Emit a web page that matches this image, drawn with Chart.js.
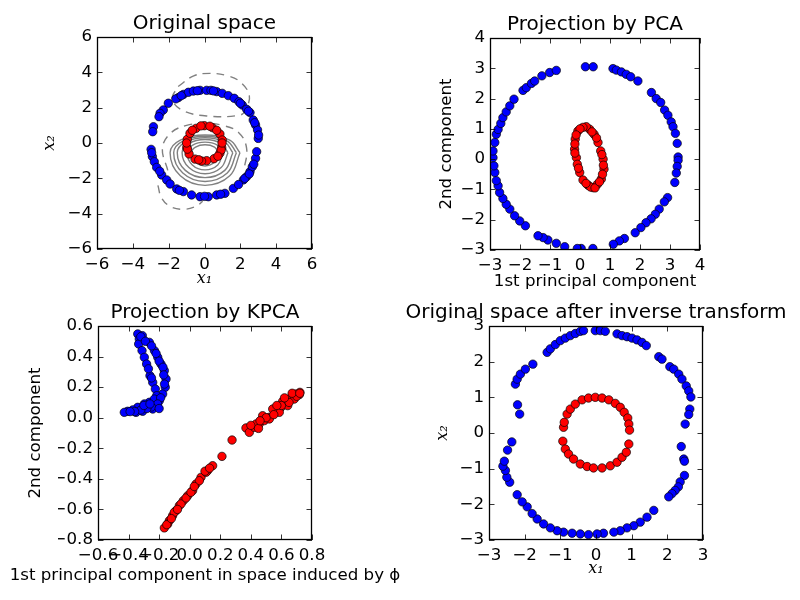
<!DOCTYPE html>
<html>
<head>
<meta charset="utf-8">
<script src="https://cdn.jsdelivr.net/npm/chart.js@4.4.0/dist/chart.umd.min.js"></script>
<style>
    body { margin: 0; background: #fff; }
    #wrap { position: relative; width: 800px; height: 600px; }
    canvas { position: absolute; }
</style>
</head>
<body>
<div id="wrap">
    <canvas id="origChart" width="400" height="300" style="left:0;top:0"></canvas>
    <canvas id="pcaChart" width="400" height="300" style="left:400px;top:0"></canvas>
    <canvas id="kpcaChart" width="400" height="300" style="left:0;top:300px"></canvas>
    <canvas id="backChart" width="400" height="300" style="left:400px;top:300px"></canvas>
</div>
<script>
// --- Original space ---
const origReds = [
    [-0.47, 0.83], [-0.01, 0.98], [0.44, 0.87], [0.86, 0.51], [0.99, 0.17], [0.96, -0.25], [0.86, -0.58],
    [0.53, -0.89], [0.12, -1.0], [-0.16, -1.02], [-0.53, -0.91], [-0.86, -0.62], [-0.99, -0.25], [-0.96, 0.21],
    [-0.81, 0.55], [-0.68, 0.72], [0.68, 0.72], [0.93, -0.4], [-0.32, -0.95], [0.3, 0.95], [-0.95, -0.35],
    [0.75, -0.75], [-0.2, 0.97], [0.98, 0.0], [-1.0, 0.0]
];
const origBlues = [
    [-1.46, 2.57], [-1.18, 2.75], [-0.9, 2.87], [-0.62, 2.94], [-0.25, 2.98], [0.12, 2.98], [0.36, 2.98],
    [0.68, 2.91], [0.99, 2.81], [1.33, 2.68], [1.66, 2.53], [1.92, 2.34], [2.11, 2.15], [2.35, 1.91],
    [2.54, 1.72], [2.72, 1.3], [2.85, 1.02], [2.96, 0.74], [3.0, 0.26], [-2.02, 2.25], [-2.3, 1.87],
    [-2.48, 1.68], [-2.54, 1.49], [-2.85, 0.92], [-2.89, 0.64], [-2.98, -0.36], [-2.91, -0.77], [-2.8, -1.06],
    [-2.67, -1.38], [-2.39, -1.81], [-2.11, -2.09], [-1.92, -2.32], [-1.55, -2.6], [-1.18, -2.75], [-0.72, -2.94],
    [-0.25, -3.04], [0.21, -3.04], [0.68, -2.94], [1.14, -2.85], [1.61, -2.57], [2.17, -2.09], [2.35, -1.91],
    [2.54, -1.62], [2.67, -1.34], [2.85, -0.87], [2.91, -0.49], [-1.6, 2.5], [-1.3, 2.68], [-0.4, 2.96],
    [0.5, 2.95], [2.0, 2.25], [2.45, 1.8], [2.8, 1.15], [3.02, 0.45], [-2.95, -0.55], [-2.5, -1.6],
    [-1.4, -2.68], [0.0, -3.02], [0.9, -2.9], [1.9, -2.35], [2.25, -2.0], [2.5, -1.75], [2.75, -1.2]
];
const origContourSolid = [
    [[0.78, -0.55], [0.56, -0.23], [0.03, -0.1], [-0.5, -0.23], [-0.72, -0.55], [-0.5, -1.08], [0.03, -1.3], [0.56, -1.08], [0.78, -0.55]],
    [[1.03, -0.55], [0.74, -0.13], [0.03, 0.05], [-0.68, -0.13], [-0.97, -0.55], [-0.68, -1.24], [0.03, -1.52], [0.74, -1.24], [1.03, -0.55]],
    [[1.31, -0.55], [0.93, -0.02], [0.03, 0.2], [-0.87, -0.02], [-1.25, -0.55], [-0.87, -1.39], [0.03, -1.74], [0.93, -1.39], [1.31, -0.55]],
    [[1.58, -0.55], [1.13, 0.05], [0.03, 0.3], [-1.07, 0.05], [-1.52, -0.55], [-1.07, -1.55], [0.03, -1.96], [1.13, -1.55], [1.58, -0.55]],
    [[1.78, -0.55], [1.27, 0.11], [0.03, 0.38], [-1.21, 0.11], [-1.72, -0.55], [-1.21, -1.7], [0.03, -2.18], [1.27, -1.7], [1.78, -0.55]],
    [[1.98, -0.55], [1.41, 0.16], [0.03, 0.45], [-1.35, 0.16], [-1.92, -0.55], [-1.35, -1.86], [0.03, -2.4], [1.41, -1.86], [1.98, -0.55]]
];
const origContourDashed = [
    [[-1.47, 3.2], [-0.6, 3.8], [0.31, 3.94], [1.3, 3.8], [1.98, 3.47], [2.5, 2.7], [2.3, 1.9], [1.98, 1.58], [0.12, 1.53], [-1.27, 1.87], [-1.8, 2.5], [-1.47, 3.2]],
    [[-2.05, -1.55], [-2.35, -0.3], [-1.9, 0.55], [-1.0, 1.0], [0, 1.1], [1.0, 1.0], [1.9, 0.6], [2.35, -0.3], [2.2, -1.55]],
    [[-2.6, -2.4], [-2.4, -3.1], [-1.9, -3.6], [-1.2, -3.75], [-0.5, -3.6], [-0.1, -3.3]]
];
const origTicks = [-6, -4, -2, 0, 2, 4, 6];

// --- Projection by PCA ---
const pcaReds = [
    [-0.07, 0.93], [-0.16, 0.66], [-0.18, 0.33], [-0.12, 0.05], [-0.09, -0.17], [-0.01, -0.44], [0.1, -0.69],
    [0.27, -0.86], [0.43, -0.94], [0.58, -0.83], [0.71, -0.66], [0.8, -0.33], [0.77, 0.0], [0.69, 0.27],
    [0.6, 0.55], [0.47, 0.82], [0.32, 0.99], [0.21, 1.07], [0.1, 1.05], [-0.17, 0.5], [0.75, -0.5], [0.35, -0.92],
    [0.0, 1.0], [-0.13, 0.8], [-0.17, 0.2], [-0.05, -0.3], [0.2, -0.8], [0.5, -0.95], [0.65, -0.75],
    [0.78, -0.2], [0.73, 0.15], [0.55, 0.7], [0.4, 0.9]
];
const pcaBlues = [
    [0.18, 3.05], [0.44, 3.05], [1.1, 2.99], [1.21, 2.94], [1.38, 2.88], [1.54, 2.8], [1.69, 2.72], [1.93, 2.58],
    [2.38, 2.2], [2.54, 2.0], [2.69, 1.87], [2.82, 1.62], [2.93, 1.45], [3.04, 1.23], [3.1, 1.07], [3.18, 0.85],
    [3.24, 0.52], [3.27, 0.07], [3.27, -0.04], [3.24, -0.24], [3.21, -0.46], [3.16, -0.77], [2.92, -1.27],
    [2.81, -1.41], [2.64, -1.65], [2.51, -1.82], [2.37, -1.97], [2.2, -2.1], [2.03, -2.26], [1.84, -2.43],
    [1.48, -2.62], [1.31, -2.7], [1.11, -2.81], [0.43, -2.95], [0.04, -2.95], [-0.09, -2.95], [-0.51, -2.89],
    [-0.79, -2.78], [-1.07, -2.67], [-1.23, -2.59], [-1.4, -2.53], [-1.82, -2.2], [-2.01, -2.04], [-2.18, -1.87],
    [-2.34, -1.65], [-2.46, -1.49], [-2.57, -1.3], [-2.68, -1.1], [-2.73, -0.88], [-2.79, -0.71], [-2.84, -0.44],
    [-2.87, -0.22], [-2.9, 0.05], [-2.9, 0.27], [-2.84, 0.55], [-2.79, 0.82], [-2.73, 0.98], [-2.64, 1.18],
    [-2.57, 1.37], [-2.46, 1.56], [-2.34, 1.76], [-2.2, 1.98], [-1.9, 2.27], [-1.79, 2.36], [-1.62, 2.5],
    [-1.51, 2.58], [-1.27, 2.75], [-1.01, 2.86], [-0.79, 2.93]
];
const pcaXTicks = [-3, -2, -1, 0, 1, 2, 3, 4];
const pcaYTicks = [-3, -2, -1, 0, 1, 2, 3, 4];

// --- Projection by KPCA ---
const kpcaReds = [
    [0.368, -0.067], [0.39, -0.096], [0.423, -0.063], [0.455, -0.041], [0.488, -0.019], [0.521, 0.003],
    [0.564, 0.046], [0.597, 0.068], [0.63, 0.101], [0.663, 0.133], [0.695, 0.155], [0.721, 0.166],
    [0.684, 0.122], [0.641, 0.079], [0.586, 0.035], [0.521, -0.008], [0.434, -0.041], [0.477, 0.013],
    [0.543, 0.057], [0.608, 0.107], [0.717, 0.151], [0.277, -0.146], [0.211, -0.253],
    [0.15, -0.314], [0.117, -0.346], [0.074, -0.39], [0.041, -0.434], [0.019, -0.477], [-0.013, -0.51],
    [-0.042, -0.543], [-0.068, -0.575], [-0.09, -0.608], [-0.112, -0.641], [-0.133, -0.673], [-0.166, -0.721],
    [-0.144, -0.695], [-0.101, -0.619], [-0.057, -0.564], [-0.024, -0.525], [0.008, -0.488], [0.063, -0.412],
    [0.107, -0.357], [0.4, -0.05], [0.45, -0.07], [0.5, 0.0], [0.55, 0.02], [0.6, 0.08], [0.65, 0.1],
    [0.7, 0.14], [0.67, 0.16], [0.62, 0.13], [0.57, 0.08], [0.46, -0.02], [0.72, 0.16],
    [-0.15, -0.7], [-0.12, -0.66], [-0.08, -0.6], [0.03, -0.45], [0.1, -0.35], [0.13, -0.33]
];
const kpcaBlues = [
    [-0.34, 0.548], [-0.31, 0.537], [-0.33, 0.515], [-0.334, 0.482], [-0.312, 0.439], [-0.297, 0.395],
    [-0.282, 0.351], [-0.264, 0.493], [-0.231, 0.439], [-0.209, 0.395], [-0.188, 0.351], [-0.166, 0.308],
    [-0.155, 0.253], [-0.16, 0.199], [-0.177, 0.155], [-0.199, 0.111], [-0.221, 0.079], [-0.242, 0.057],
    [-0.26, 0.275], [-0.242, 0.231], [-0.225, 0.188], [-0.216, 0.144], [-0.264, 0.101], [-0.297, 0.09],
    [-0.34, 0.068], [-0.373, 0.051], [-0.406, 0.042], [-0.428, 0.035], [-0.308, 0.042], [-0.351, 0.035],
    [-0.231, 0.122], [-0.32, 0.53], [-0.29, 0.5], [-0.25, 0.47], [-0.22, 0.42], [-0.2, 0.37], [-0.175, 0.33],
    [-0.17, 0.28], [-0.165, 0.22], [-0.19, 0.13], [-0.21, 0.09], [-0.25, 0.07], [-0.28, 0.06], [-0.32, 0.05],
    [-0.36, 0.04], [-0.39, 0.04], [-0.3, 0.08], [-0.26, 0.09], [-0.2, 0.06], [-0.27, 0.32], [-0.25, 0.26]
];
const kpcaXTicks = [-0.6, -0.4, -0.2, 0.0, 0.2, 0.4, 0.6, 0.8];
const kpcaYTicks = [-0.8, -0.6, -0.4, -0.2, 0.0, 0.2, 0.4, 0.6];

// --- Original space after inverse transform ---
const backReds = [
    [-0.91, 0.16], [-0.89, 0.3], [-0.81, 0.53], [-0.72, 0.67], [-0.58, 0.81], [-0.39, 0.93], [-0.21, 0.98],
    [-0.02, 1.0], [0.17, 0.98], [0.36, 0.93], [0.54, 0.83], [0.68, 0.72], [0.79, 0.58], [0.89, 0.42],
    [0.92, 0.25], [0.94, 0.08], [-0.93, -0.23], [-0.86, -0.45], [-0.77, -0.59], [-0.63, -0.73], [-0.44, -0.87],
    [-0.25, -0.94], [-0.07, -0.98], [0.17, -0.98], [0.4, -0.92], [0.59, -0.82], [0.73, -0.68], [0.85, -0.54],
    [0.92, -0.31]
];
const backBlues = [
    [-1.37, 2.26], [-1.28, 2.36], [-1.14, 2.48], [-1.0, 2.59], [-0.86, 2.66], [-0.72, 2.73], [-0.58, 2.79],
    [-0.44, 2.85], [-0.35, 2.87], [-0.02, 2.87], [0.12, 2.87], [0.26, 2.85], [0.59, 2.78], [0.73, 2.73],
    [0.87, 2.7], [1.01, 2.66], [1.15, 2.61], [1.29, 2.54], [1.41, 2.45], [1.76, 2.14], [1.85, 2.07],
    [2.07, 1.86], [2.18, 1.79], [2.32, 1.65], [2.41, 1.51], [2.53, 1.32], [2.6, 1.18], [2.66, 1.01],
    [2.63, 0.67], [2.6, 0.52], [2.5, 0.25], [2.39, -0.38], [2.46, -0.73], [2.48, -0.79], [2.48, -1.19],
    [2.36, -1.37], [2.31, -1.51], [2.22, -1.61], [2.13, -1.7], [2.04, -1.79], [1.62, -2.17], [1.43, -2.36],
    [1.24, -2.5], [1.06, -2.6], [0.87, -2.66], [0.68, -2.74], [0.5, -2.78], [0.21, -2.81], [0.03, -2.83],
    [-0.21, -2.85], [-0.44, -2.83], [-0.67, -2.81], [-0.91, -2.78], [-1.09, -2.74], [-1.28, -2.66],
    [-1.47, -2.55], [-1.65, -2.41], [-1.79, -2.26], [-1.93, -2.07], [-2.07, -1.93], [-2.21, -1.73],
    [-2.42, -1.38], [-2.5, -1.24], [-2.54, -1.05], [-2.61, -0.93], [-2.57, -0.79], [-2.48, -0.48],
    [-2.36, -0.25], [-2.14, 0.53], [-2.2, 0.79], [-2.26, 1.37], [-2.21, 1.51], [-2.12, 1.65],
    [-1.98, 1.79], [-1.77, 1.93]
];
const backTicks = [-3, -2, -1, 0, 1, 2, 3];

const toPoints = arr => arr.map(([x, y]) => ({x, y}));
const fmt = decimals => v => (v < -1e-9 ? '\u2212' : '') + Math.abs(v).toFixed(decimals);

// frame, inward tick marks and the text labels, drawn like matplotlib classic
const framePlugin = {
    id: 'frame',
    afterDatasetsDraw(chart, args, opts) {
        const {ctx, chartArea: a, scales: {x, y}} = chart;
        ctx.save();
        ctx.strokeStyle = '#000';
        ctx.lineWidth = 0.8;
        ctx.beginPath();
        x.ticks.forEach(t => {
            const p = Math.round(x.getPixelForValue(t.value)) + 0.5;
            ctx.moveTo(p, a.top); ctx.lineTo(p, a.top + 5.5);
            ctx.moveTo(p, a.bottom); ctx.lineTo(p, a.bottom - 5.5);
        });
        y.ticks.forEach(t => {
            const p = Math.round(y.getPixelForValue(t.value)) + 0.5;
            ctx.moveTo(a.left, p); ctx.lineTo(a.left + 5.5, p);
            ctx.moveTo(a.right, p); ctx.lineTo(a.right - 5.5, p);
        });
        ctx.stroke();
        ctx.lineWidth = 1.3;
        ctx.strokeRect(a.left + 0.5, a.top + 0.5, a.right - a.left - 1, a.bottom - a.top - 1);

        const cx = (a.left + a.right) / 2, cy = (a.top + a.bottom) / 2;
        ctx.fillStyle = '#000';
        ctx.textAlign = 'center';
        ctx.textBaseline = 'alphabetic';
        ctx.font = '20px "DejaVu Sans"';
        ctx.fillText(opts.title, cx, a.top - 8);
        ctx.font = opts.xFont;
        ctx.fillText(opts.xlabel, cx, a.bottom + opts.xGap);
        ctx.font = opts.yFont;
        ctx.translate(a.left - opts.yGap, cy);
        ctx.rotate(-Math.PI / 2);
        ctx.fillText(opts.ylabel, 0, 0);
        ctx.restore();
    }
};

const mathFont = 'italic 16px "DejaVu Serif"';
const textFont = '16.67px "DejaVu Sans"';

function axis(min, max, tickValues, decimals, isX) {
    return {
        type: 'linear',
        min: min,
        max: max,
        grid: {display: false, drawTicks: false},
        border: {display: false},
        ticks: {
            color: '#000',
            font: {family: 'DejaVu Sans', size: 16.67},
            padding: isX ? 6 : 5,
            autoSkip: false,
            maxRotation: 0,
            callback: fmt(decimals)
        },
        afterBuildTicks: scale => { scale.ticks = tickValues.map(value => ({value})); },
        afterFit: scale => {
            if (isX) scale.height = 30; else scale.width = 40;
        }
    };
}

function makeChart(id, area, reds, blues, lines, xs, ys, labels) {
    const datasets = [
        {data: toPoints(reds), backgroundColor: '#ff0000'},
        {data: toPoints(blues), backgroundColor: '#0000ff'}
    ].map(d => Object.assign(d, {
        borderColor: '#000', borderWidth: 0.7, pointRadius: 4.2, clip: 0
    }));
    lines.forEach(l => datasets.push({
        data: toPoints(l.points),
        showLine: true,
        pointRadius: 0,
        borderColor: '#808080',
        borderWidth: 1.4,
        borderDash: l.dashed ? [8, 6] : [],
        tension: 0.4,
        clip: 0
    }));
    return new Chart(document.getElementById(id), {
        type: 'scatter',
        data: {datasets},
        plugins: [framePlugin],
        options: {
            responsive: false,
            animation: false,
            events: [],
            layout: {
                padding: {left: area[0] - 40, top: area[1], right: 400 - area[2], bottom: 300 - area[3] - 30}
            },
            plugins: {
                legend: {display: false},
                tooltip: {enabled: false},
                frame: labels
            },
            scales: {x: xs, y: ys}
        }
    });
}

const origLines = origContourSolid.map(points => ({points, dashed: false}))
    .concat(origContourDashed.map(points => ({points, dashed: true})));

makeChart('origChart', [97, 37, 312, 249], origReds, origBlues, origLines,
    axis(-6, 6, origTicks, 0, true), axis(-6, 6, origTicks, 0, false),
    {title: 'Original space', xlabel: 'x\u2081', ylabel: 'x\u2082', xFont: mathFont, yFont: mathFont, xGap: 34, yGap: 43});

makeChart('pcaChart', [90, 38, 300, 250], pcaReds, pcaBlues, [],
    axis(-3, 4, pcaXTicks, 0, true), axis(-3, 4, pcaYTicks, 0, false),
    {title: 'Projection by PCA', xlabel: '1st principal component', ylabel: '2nd component', xFont: textFont, yFont: textFont, xGap: 36, yGap: 39});

makeChart('kpcaChart', [98, 26, 312, 240], kpcaReds, kpcaBlues, [],
    axis(-0.6, 0.8, kpcaXTicks, 1, true), axis(-0.8, 0.6, kpcaYTicks, 1, false),
    {title: 'Projection by KPCA', xlabel: '1st principal component in space induced by \u03d5', ylabel: '2nd component', xFont: textFont, yFont: textFont, xGap: 40, yGap: 58});

makeChart('backChart', [89, 26, 303, 240], backReds, backBlues, [],
    axis(-3, 3, backTicks, 0, true), axis(-3, 3, backTicks, 0, false),
    {title: 'Original space after inverse transform', xlabel: 'x\u2081', ylabel: 'x\u2082', xFont: mathFont, yFont: mathFont, xGap: 33, yGap: 42});
</script>
</body>
</html>
